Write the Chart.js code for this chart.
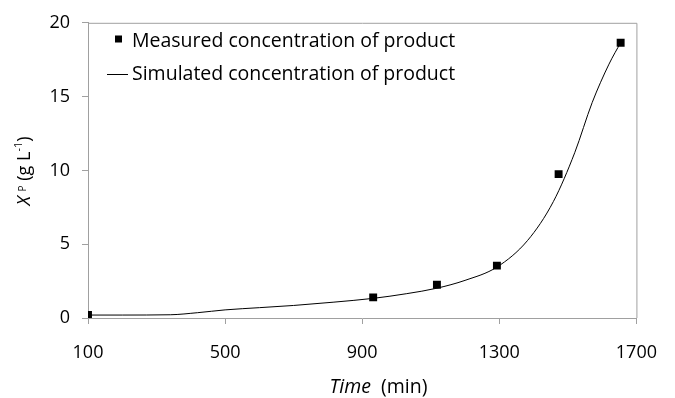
<!DOCTYPE html>
<html>
<head>
<meta charset="utf-8">
<script src="https://cdn.jsdelivr.net/npm/chart.js@4/dist/chart.umd.min.js"></script>
<style>
html,body{margin:0;padding:0;background:#fff;}
#wrap{width:675px;height:398px;}
</style>
</head>
<body>
<div id="wrap"><canvas id="c" width="675" height="398"></canvas></div>
<script>
// Measured concentration of product
const measuredTime = [100, 932, 1118, 1293, 1473, 1654];
const measuredXP = [0.2, 1.4, 2.25, 3.55, 9.75, 18.65];
// Simulated concentration of product
const simTime = [100, 200, 340, 420, 500, 600, 700, 815, 932, 1030, 1118, 1200, 1293, 1382, 1458, 1520, 1571, 1620, 1655];
const simXP = [0.2, 0.2, 0.22, 0.36, 0.55, 0.7, 0.85, 1.07, 1.33, 1.65, 2.02, 2.55, 3.45, 5.24, 7.9, 11.2, 14.6, 17.2, 18.7];
const xTicks = [100, 500, 900, 1300, 1700];
const yTicks = [0, 5, 10, 15, 20];
const legendLabels = ['Measured concentration of product', 'Simulated concentration of product'];

const FONT = '"Open Sans", "Noto Sans", sans-serif';
const FS = 18;     // tick labels
const LFS = 19.5;  // legend and axis titles
const AXIS = '#a0a0a0';

const decor = {
  id: 'decor',
  beforeDatasetsDraw(chart) {
    const {ctx, chartArea: a} = chart;
    ctx.save();
    ctx.strokeStyle = AXIS;
    ctx.lineWidth = 1;
    ctx.beginPath();
    ctx.moveTo(a.left, a.top + 0.5);
    ctx.lineTo(a.right + 0.5, a.top + 0.5);
    ctx.lineTo(a.right + 0.5, a.bottom);
    ctx.stroke();
    ctx.restore();
  },
  afterDraw(chart) {
    const ctx = chart.ctx;
    ctx.save();
    ctx.fillStyle = '#000';
    ctx.strokeStyle = '#000';
    // legend
    ctx.font = LFS + 'px ' + FONT;
    ctx.textBaseline = 'alphabetic';
    ctx.textAlign = 'left';
    ctx.fillRect(115, 35.5, 7, 7);
    ctx.fillText(legendLabels[0], 132, 46.5);
    ctx.lineWidth = 1;
    ctx.beginPath();
    ctx.moveTo(107, 74.5);
    ctx.lineTo(128, 74.5);
    ctx.stroke();
    ctx.fillText(legendLabels[1], 132, 80);

    // x title
    ctx.font = 'italic ' + LFS + 'px ' + FONT;
    const t1 = 'Time';
    const w1 = ctx.measureText(t1).width;
    ctx.font = LFS + 'px ' + FONT;
    const t2 = '  (min)';
    const w2 = ctx.measureText(t2).width;
    let x0 = 378.5 - (w1 + w2) / 2;
    ctx.font = 'italic ' + LFS + 'px ' + FONT;
    ctx.fillText(t1, x0, 393);
    ctx.font = LFS + 'px ' + FONT;
    ctx.fillText(t2, x0 + w1, 393);

    // y title (rotated)
    const parts = [
      {t: 'X', f: 'italic ' + FS + 'px ', dy: 0},
      {t: ' ', f: FS + 'px ', dy: 0},
      {t: 'P', f: '10px ', dy: -4},
      {t: ' (g L', f: FS + 'px ', dy: 0},
      {t: '-1', f: '11px ', dy: -8},
      {t: ')', f: FS + 'px ', dy: 0}
    ];
    let total = 0;
    parts.forEach(p => { ctx.font = p.f + FONT; p.w = ctx.measureText(p.t).width; total += p.w; });
    ctx.translate(30, 171);
    ctx.rotate(-Math.PI / 2);
    let cx = -total / 2;
    parts.forEach(p => { ctx.font = p.f + FONT; ctx.fillText(p.t, cx, p.dy); cx += p.w; });
    ctx.restore();
  }
};

new Chart(document.getElementById('c'), {
  type: 'scatter',
  data: {
    datasets: [
      {
        label: legendLabels[0],
        data: measuredTime.map((t, i) => ({x: t, y: measuredXP[i]})),
        pointStyle: 'rect',
        pointRadius: 5.6,
        backgroundColor: '#000',
        borderColor: '#000',
        borderWidth: 0,
        showLine: false,
        order: 0
      },
      {
        label: legendLabels[1],
        data: simTime.map((t, i) => ({x: t, y: simXP[i]})),
        showLine: true,
        borderColor: '#000',
        borderWidth: 1,
        pointRadius: 0,
        cubicInterpolationMode: 'monotone',
        fill: false,
        order: 1
      }
    ]
  },
  options: {
    responsive: false,
    animation: false,
    devicePixelRatio: 1,
    layout: {padding: {top: 20, right: 23, left: 0, bottom: 0}},
    plugins: {legend: {display: false}, tooltip: {enabled: false}, title: {display: false}},
    scales: {
      x: {
        type: 'linear', min: 100, max: 1700,
        afterBuildTicks: s => { s.ticks = xTicks.map(v => ({value: v})); },
        afterFit: s => { s.height = 80; },
        grid: {drawOnChartArea: false, drawTicks: true, tickLength: 6, color: AXIS},
        border: {display: true, color: AXIS, width: 1},
        ticks: {color: '#000', font: {family: FONT, size: FS}, padding: 18, maxRotation: 0, callback: v => String(v)}
      },
      y: {
        type: 'linear', min: 0, max: 20,
        afterBuildTicks: s => { s.ticks = yTicks.map(v => ({value: v})); },
        afterFit: s => { s.width = 88; },
        grid: {drawOnChartArea: false, drawTicks: true, tickLength: 6, color: AXIS},
        border: {display: true, color: AXIS, width: 1},
        ticks: {color: '#000', font: {family: FONT, size: FS}, padding: 12, callback: v => String(v)}
      }
    }
  },
  plugins: [decor]
});
</script>
</body>
</html>
